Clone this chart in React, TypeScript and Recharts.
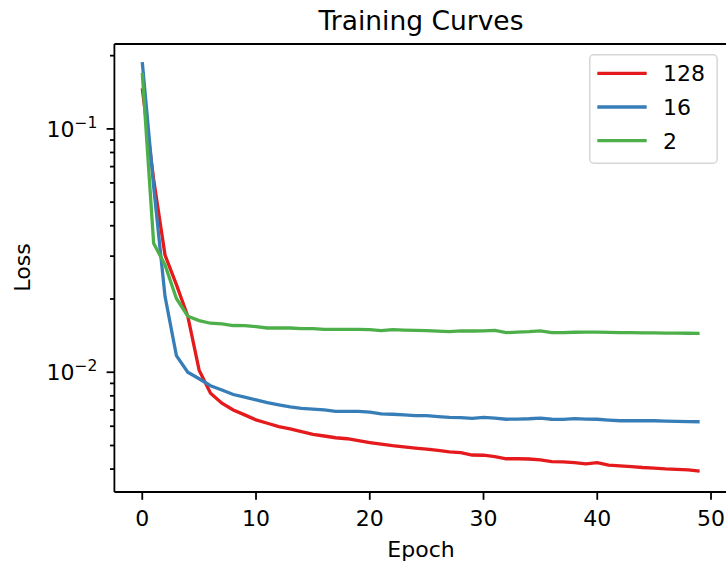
import { LineChart, Line, XAxis, YAxis, Legend, ReferenceLine } from "recharts";

const FONT = "DejaVu Sans";

const epochs = [
  0, 1, 2, 3, 4, 5, 6, 7, 8, 9, 10, 11, 12, 13, 14, 15, 16, 17, 18, 19, 20, 21, 22, 23, 24,
  25, 26, 27, 28, 29, 30, 31, 32, 33, 34, 35, 36, 37, 38, 39, 40, 41, 42, 43, 44, 45, 46, 47, 48, 49,
];

const loss128 = [
  0.147, 0.062, 0.0303, 0.0229, 0.017, 0.0102, 0.0082, 0.00746, 0.007, 0.00668,
  0.00637, 0.00617, 0.00598, 0.00585, 0.0057, 0.00556, 0.00547, 0.00538, 0.00533, 0.00523,
  0.00514, 0.00506, 0.00499, 0.00494, 0.00488, 0.00483, 0.00477, 0.00471, 0.00467, 0.00457,
  0.00456, 0.0045, 0.00441, 0.00441, 0.0044, 0.00436, 0.00429, 0.00428, 0.00425, 0.0042,
  0.00425, 0.00415, 0.00412, 0.00409, 0.00406, 0.00404, 0.00401, 0.00399, 0.00397, 0.00392,
];

const loss16 = [
  0.188, 0.058, 0.0205, 0.0117, 0.01, 0.0094, 0.0088, 0.00845, 0.0081, 0.0079,
  0.0077, 0.0075, 0.00735, 0.0072, 0.0071, 0.00705, 0.007, 0.0069, 0.0069, 0.0069,
  0.00685, 0.00674, 0.00672, 0.00668, 0.00663, 0.00663, 0.00657, 0.00652, 0.00651, 0.00646,
  0.00652, 0.00648, 0.00641, 0.00642, 0.00644, 0.00648, 0.00641, 0.0064, 0.00645, 0.00642,
  0.00641, 0.00636, 0.00632, 0.00632, 0.00632, 0.00632, 0.0063, 0.00628, 0.00627, 0.00626,
];

const loss2 = [
  0.17, 0.0339, 0.0276, 0.0201, 0.017, 0.0163, 0.0159, 0.0158, 0.01556, 0.01553,
  0.0154, 0.0152, 0.0152, 0.0152, 0.0151, 0.0151, 0.015, 0.015, 0.015, 0.015,
  0.01496, 0.01482, 0.01496, 0.0149, 0.01486, 0.01482, 0.01475, 0.01468, 0.0148, 0.01477,
  0.0148, 0.01485, 0.01455, 0.01462, 0.01468, 0.0148, 0.01455, 0.01455, 0.0146, 0.01462,
  0.01462, 0.01458, 0.01455, 0.01455, 0.01452, 0.0145, 0.01448, 0.01447, 0.01446, 0.01445,
];

const series = [
  { key: "b128", name: "128", color: "#e41a1c", values: loss128 },
  { key: "b16", name: "16", color: "#377eb8", values: loss16 },
  { key: "b2", name: "2", color: "#4daf4a", values: loss2 },
];

const xTicks = [0, 10, 20, 30, 40, 50];
const yMajor = [0.01, 0.1];
const yTicks = [
  0.004, 0.005, 0.006, 0.007, 0.008, 0.009, 0.01,
  0.02, 0.03, 0.04, 0.05, 0.06, 0.07, 0.08, 0.09, 0.1, 0.2,
];
const xDomain = [-2.45, 51.45];
const yDomain = [0.00322, 0.2233];

const data = epochs.map((epoch, i) => {
  const row: Record<string, number> = { epoch };
  series.forEach((s) => (row[s.key] = s.values[i]));
  return row;
});

function XTick({ x, y, payload }: any) {
  return (
    <text x={x} y={y + 26} textAnchor="middle" fontFamily={FONT} fontSize={22} fill="#000">
      {payload.value}
    </text>
  );
}

function YTick({ x, y, payload }: any) {
  const v = payload.value;
  const major = yMajor.some((m) => Math.abs(m - v) < 1e-9);
  const exp = Math.round(Math.log10(v));
  return (
    <g>
      <line x1={x - (major ? 7.8 : 4.4)} x2={x} y1={y} y2={y} stroke="#000" strokeWidth={1.8} />
      {major && (
        <text x={x - 17} y={y + 8} textAnchor="end" fontFamily={FONT} fontSize={22} fill="#000">
          10
          <tspan dy={-9} fontSize={15.5}>
            {"\u2212" + -exp}
          </tspan>
        </text>
      )}
    </g>
  );
}

function LegendBox() {
  return (
    <svg width={130} height={112}>
      <rect x={0.75} y={0.75} width={127.4} height={108.4} rx={4} fill="#fff" fillOpacity={0.8} stroke="#d6d6d6" strokeWidth={1.5} />
      {series.map((s, i) => (
        <g key={s.key}>
          <line x1={8.3} x2={57.7} y1={19.3 + i * 33.7} y2={19.3 + i * 33.7} stroke={s.color} strokeWidth={3.3} />
          <text x={74} y={19.3 + i * 33.7 + 8} fontFamily={FONT} fontSize={22} fill="#000">
            {s.name}
          </text>
        </g>
      ))}
    </svg>
  );
}

export default function App() {
  return (
    <div style={{ position: "absolute", left: 0, top: 0, width: 726, height: 563, overflow: "hidden", background: "#fff" }}>
      <svg width={726} height={44} style={{ position: "absolute", left: 0, top: 0 }}>
        <text x={421} y={29.5} textAnchor="middle" fontFamily={FONT} fontSize={26.5} fill="#000">
          Training Curves
        </text>
      </svg>
      <div style={{ position: "absolute", left: 0, top: 0 }}>
        <LineChart width={728} height={563} data={data} margin={{ top: 44, right: 0.5, bottom: 0, left: 0 }}>
          <XAxis
            dataKey="epoch"
            type="number"
            domain={xDomain}
            ticks={xTicks}
            interval={0}
            allowDataOverflow
            height={71}
            tickSize={7.8}
            tickMargin={0}
            tick={<XTick />}
            tickLine={{ stroke: "#000", strokeWidth: 1.8 }}
            axisLine={{ stroke: "#000", strokeWidth: 1.8 }}
            label={{
              content: () => (
                <text x={421} y={556.7} textAnchor="middle" fontFamily={FONT} fontSize={22} fill="#000">
                  Epoch
                </text>
              ),
            }}
          />
          <YAxis
            scale="log"
            type="number"
            domain={yDomain}
            allowDataOverflow
            ticks={yTicks}
            interval={0}
            width={114.4}
            tickSize={0}
            tickMargin={0}
            tickLine={false}
            tick={<YTick />}
            axisLine={{ stroke: "#000", strokeWidth: 1.8 }}
            label={{
              content: () => (
                <text
                  x={30}
                  y={267.5}
                  transform="rotate(-90, 30, 267.5)"
                  textAnchor="middle"
                  fontFamily={FONT}
                  fontSize={22}
                  fill="#000"
                >
                  Loss
                </text>
              ),
            }}
          />
          <ReferenceLine y={yDomain[1]} stroke="#000" strokeWidth={1.8} ifOverflow="visible" />
          <Legend
            layout="horizontal"
            verticalAlign="middle"
            align="center"
            content={() => <LegendBox />}
            wrapperStyle={{ left: 589, top: 54, width: 130, height: 112 }}
          />
          {series.map((s) => (
            <Line
              key={s.key}
              dataKey={s.key}
              name={s.name}
              stroke={s.color}
              strokeWidth={3.3}
              dot={false}
              activeDot={false}
              type="linear"
              isAnimationActive={false}
            />
          ))}
        </LineChart>
      </div>
    </div>
  );
}
